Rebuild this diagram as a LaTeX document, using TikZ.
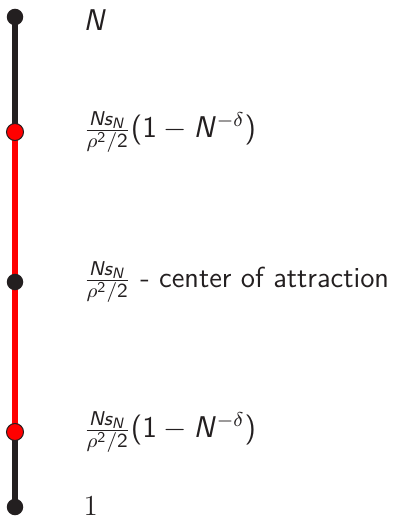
\documentclass[tikz,border=0pt]{standalone}
\DeclareSymbolFont{operators}{OT1}{cmss}{m}{n}
\DeclareSymbolFont{sfletters}{OT1}{cmss}{m}{sl}
\DeclareMathSymbol{N}{\mathalpha}{sfletters}{`N}
\DeclareMathSymbol{s}{\mathalpha}{sfletters}{`s}
\definecolor{dotblack}{HTML}{231F20}
\definecolor{segred}{HTML}{FF0000}
\begin{document}
\begin{tikzpicture}[x=0.4pt,y=-0.4pt]
\tikzset{
  blackdot/.style={circle, fill=dotblack, inner sep=0pt, minimum size=6.6pt},
  reddot/.style={circle, fill=segred, draw=dotblack, line width=0.4pt, inner sep=0pt, minimum size=6.8pt},
  blackseg/.style={draw=dotblack, line width=2.6pt},
  redseg/.style={draw=segred, line width=2.6pt},
  lab/.style={anchor=west, inner sep=0pt, text=dotblack, font=\fontsize{11.6}{13.5}\selectfont\sffamily}
}
\useasboundingbox (0,0) rectangle (404,518);
\coordinate (c1) at (15,17);
\coordinate (c2) at (15,132);
\coordinate (c3) at (15,282);
\coordinate (c4) at (15,432);
\coordinate (c5) at (15,507);
\draw[blackseg] (c1) -- (c2);
\draw[redseg] (c2) -- (c3);
\draw[redseg] (c3) -- (c4);
\draw[blackseg] (c4) -- (c5);
\node[blackdot] (d1) at (c1) {};
\node[reddot] (d2) at (c2) {};
\node[blackdot] (d3) at (c3) {};
\node[reddot] (d4) at (c4) {};
\node[blackdot] (d5) at (c5) {};
\node[lab] (l1) at (83,20) {$N$};
\node[lab] (l2) at (83,132) {$\frac{Ns_N}{\rho^2/2}(1-N^{-\delta})$};
\node[lab] (l3) at (83,282) {$\frac{Ns_N}{\rho^2/2}$ - center of attraction};
\node[lab] (l4) at (83,432) {$\frac{Ns_N}{\rho^2/2}(1-N^{-\delta})$};
\node[lab] (l5) at (83,506) {\rmfamily 1};
\end{tikzpicture}
\end{document}
